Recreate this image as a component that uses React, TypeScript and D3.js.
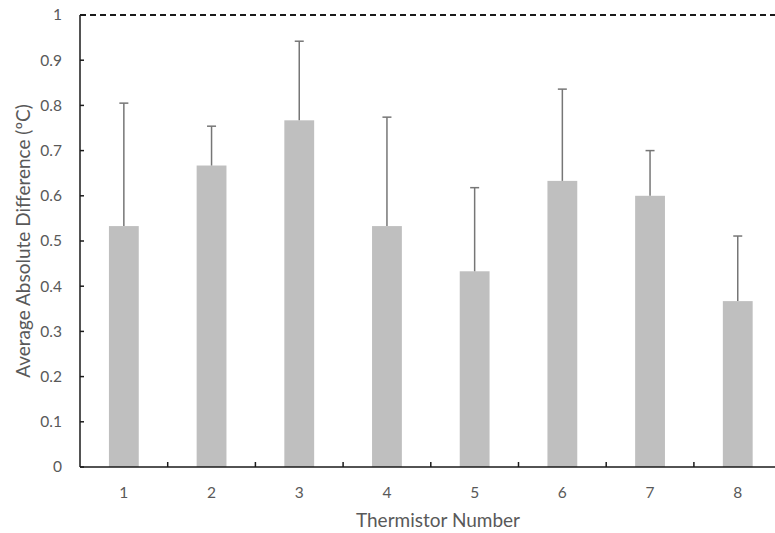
import React from "react";
import * as d3 from "d3";

const categories = ["1", "2", "3", "4", "5", "6", "7", "8"];
const means = [0.533, 0.667, 0.767, 0.533, 0.433, 0.633, 0.6, 0.367];
const upperErr = [0.805, 0.754, 0.942, 0.774, 0.618, 0.836, 0.7, 0.511];
const yTicks = [0, 0.1, 0.2, 0.3, 0.4, 0.5, 0.6, 0.7, 0.8, 0.9, 1];
const refLine = 1;

const W = 775;
const H = 533;
const left = 80;
const right = 781.6;
const top = 15;
const bottom = 467;

export default function App() {
  const x = d3.scaleBand<string>().domain(categories).range([left, right]).paddingInner(0).paddingOuter(0);
  const y = d3.scaleLinear().domain([0, 1]).range([bottom, top]);
  const bw = x.bandwidth() * 0.34;
  const font = "Lato, 'Open Sans', sans-serif";
  const textColor = "#595959";
  return (
    <svg width={W} height={H} style={{ position: "absolute", left: 0, top: 0, background: "#fff" }}>
      {categories.map((c, i) => {
        const cx = (x(c) as number) + x.bandwidth() / 2;
        return (
          <g key={c}>
            <rect x={cx - bw / 2} y={y(means[i])} width={bw} height={y(0) - y(means[i])} fill="#bfbfbf" />
            <line x1={cx} x2={cx} y1={y(means[i])} y2={y(upperErr[i])} stroke="#767676" strokeWidth={1.5} />
            <line x1={cx - 4.5} x2={cx + 4.5} y1={y(upperErr[i])} y2={y(upperErr[i])} stroke="#767676" strokeWidth={1.5} />
          </g>
        );
      })}
      <line x1={left} x2={W} y1={y(refLine)} y2={y(refLine)} stroke="#1a1a1a" strokeWidth={1.8} strokeDasharray="6,4" />
      <line x1={left} x2={left} y1={y(0)} y2={y(1)} stroke="#1a1a1a" strokeWidth={1.5} />
      {yTicks.map((t) => (
        <g key={t}>
          <line x1={left} x2={left + 4} y1={y(t)} y2={y(t)} stroke="#1a1a1a" strokeWidth={1.5} />
          <text x={62} y={y(t)} dy="0.35em" textAnchor="end" fontFamily={font} fontSize={15.5} fill={textColor}>
            {t === 0 || t === 1 ? String(t) : t.toFixed(1)}
          </text>
        </g>
      ))}
      <line x1={left} x2={right} y1={y(0)} y2={y(0)} stroke="#1a1a1a" strokeWidth={1.5} />
      {categories.map((c, i) => (
        <g key={"xt" + c}>
          {i > 0 && (
            <line x1={x(c) as number} x2={x(c) as number} y1={y(0)} y2={y(0) - 5} stroke="#1a1a1a" strokeWidth={1.5} />
          )}
          <text x={(x(c) as number) + x.bandwidth() / 2} y={493} dy="0.35em" textAnchor="middle" fontFamily={font} fontSize={15.5} fill={textColor}>
            {c}
          </text>
        </g>
      ))}
      <text x={438} y={520} dy="0.35em" textAnchor="middle" fontFamily={font} fontSize={19} fill={textColor}>
        Thermistor Number
      </text>
      <text transform={`translate(23,241) rotate(-90)`} dy="0.35em" textAnchor="middle" fontFamily={font} fontSize={19} fill={textColor}>
        Average Absolute Difference (ºC)
      </text>
    </svg>
  );
}
